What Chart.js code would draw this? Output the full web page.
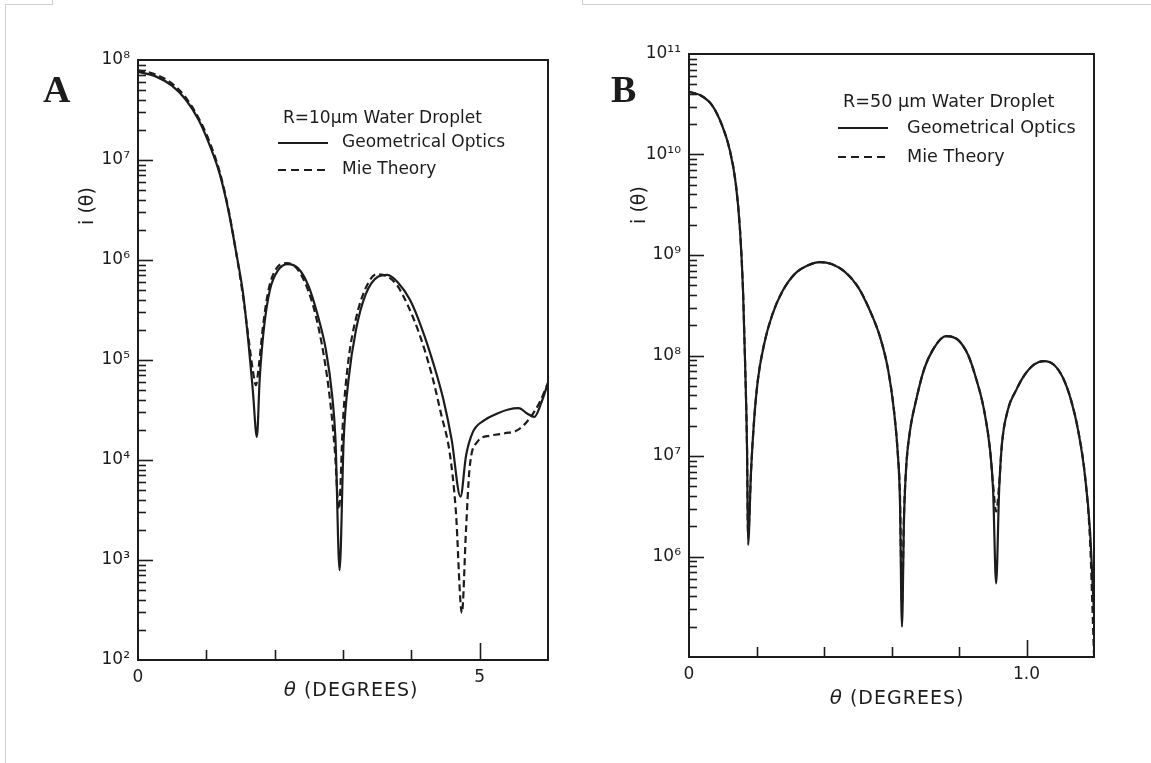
<!DOCTYPE html>
<html><head><meta charset="utf-8">
<script src="https://cdn.jsdelivr.net/npm/chart.js@4.4.0/dist/chart.umd.min.js"></script>
<style>
html,body{margin:0;padding:0;background:#fff;}
body{width:1151px;height:763px;position:relative;overflow:hidden;}
canvas{position:absolute;top:0;}
#cA{left:0;width:575px;height:763px;}
#cB{left:575px;width:576px;height:763px;}
.fr{position:absolute;background:#cfcfcf;}
</style></head><body>
<div class="fr" style="left:5px;top:4px;width:48px;height:1px"></div>
<div class="fr" style="left:52px;top:0;width:1px;height:4px"></div>
<div class="fr" style="left:5px;top:4px;width:1px;height:759px"></div>
<div class="fr" style="left:582px;top:4px;width:569px;height:1px"></div>
<div class="fr" style="left:582px;top:0;width:1px;height:4px"></div>
<canvas id="cA" width="575" height="763"></canvas>
<canvas id="cB" width="576" height="763"></canvas>
<script>
// ---------- Panel A : R = 10 um ----------
const thetaA_geo = [0,0.25,0.5,0.7,0.89,1.05,1.2,1.32,1.43,1.54,1.62,1.68,1.74,1.78,1.84,1.93,2.05,2.19,2.34,2.49,2.63,2.75,2.84,2.89,2.95,3.01,3.08,3.19,3.33,3.51,3.65,3.8,3.98,4.15,4.33,4.47,4.59,4.72,4.8,4.9,5.07,5.25,5.42,5.57,5.7,5.8,5.9,6.0];
const iA_geo = [7.6e7,6.9e7,5.5e7,4.0e7,2.5e7,1.4e7,7.1e6,3.2e6,1.26e6,4.5e5,1.4e5,5e4,1.7e4,6.3e4,2e5,5e5,7.9e5,9.1e5,8.3e5,5.6e5,2.8e5,1.26e5,4.5e4,1.6e4,7.9e2,1.6e4,6.3e4,2e5,4.5e5,6.8e5,7.1e5,6e5,4e5,2.1e5,8.9e4,4e4,1.6e4,4.3e3,1.1e4,1.9e4,2.5e4,2.9e4,3.2e4,3.3e4,2.9e4,2.7e4,3.7e4,5.9e4];
const thetaA_mie = [0,0.25,0.5,0.7,0.89,1.05,1.2,1.32,1.43,1.54,1.62,1.68,1.725,1.77,1.83,1.915,2.03,2.18,2.32,2.46,2.6,2.72,2.81,2.88,2.94,3.0,3.08,3.19,3.33,3.49,3.64,3.79,3.95,4.12,4.3,4.44,4.56,4.65,4.74,4.8,4.85,4.96,5.15,5.37,5.56,5.73,5.88,6.0];
const iA_mie = [7.9e7,7.2e7,5.8e7,4.2e7,2.6e7,1.5e7,7.4e6,3.3e6,1.26e6,4.2e5,1.6e5,7.9e4,5.6e4,8.9e4,2.2e5,5.2e5,8.3e5,9.3e5,8.3e5,5.6e5,2.8e5,1.1e5,4e4,1.26e4,3.2e3,2.5e4,1e5,2.6e5,5.2e5,7.2e5,6.9e5,5.6e5,3.5e5,1.8e5,7.1e4,2.8e4,1.2e4,3.2e3,2.95e2,2e3,7.9e3,1.5e4,1.75e4,1.85e4,2.0e4,2.6e4,3.8e4,5.9e4];
const xTicksA = [0,1,2,3,4,5,6];
const xLabelsA = {0:'0',5:'5'};
const yExpA = [2,3,4,5,6,7,8];

// ---------- Panel B : R = 50 um ----------
const thetaB_geo = [0,0.033,0.068,0.098,0.121,0.139,0.151,0.16,0.166,0.172,0.175,0.184,0.193,0.204,0.222,0.246,0.276,0.314,0.353,0.388,0.424,0.462,0.501,0.536,0.566,0.59,0.607,0.619,0.625,0.631,0.637,0.643,0.655,0.673,0.696,0.726,0.761,0.797,0.827,0.85,0.874,0.892,0.901,0.91,0.919,0.927,0.945,0.969,0.993,1.022,1.052,1.081,1.108,1.132,1.153,1.173,1.188,1.2];
const iB_geo = [4.2e10,3.9e10,3.1e10,1.95e10,1.1e10,5e9,1.8e9,4.5e8,8.9e7,1.15e7,1.3e6,7.3e6,2.3e7,5.7e7,1.27e8,2.5e8,4.3e8,6.5e8,7.9e8,8.5e8,8.1e8,6.8e8,4.8e8,2.8e8,1.53e8,7.2e7,2.9e7,1.02e7,3.65e6,2e5,2.3e6,7.3e6,1.8e7,3.6e7,7.2e7,1.19e8,1.56e8,1.43e8,1.01e8,6e7,2.9e7,1.15e7,4.6e6,5.4e5,4.6e6,1.29e7,2.9e7,4.5e7,6.3e7,8.1e7,8.8e7,8.1e7,6e7,3.6e7,1.8e7,6.5e6,1.84e6,2.7e5];
const thetaB_mie = [0,0.033,0.068,0.098,0.121,0.139,0.151,0.16,0.166,0.172,0.175,0.184,0.193,0.204,0.222,0.246,0.276,0.314,0.353,0.388,0.424,0.462,0.501,0.536,0.566,0.59,0.607,0.619,0.625,0.631,0.637,0.643,0.655,0.673,0.696,0.726,0.761,0.797,0.827,0.85,0.874,0.892,0.901,0.91,0.919,0.927,0.945,0.969,0.993,1.022,1.052,1.081,1.108,1.132,1.153,1.173,1.188,1.2];
const iB_mie = [4.2e10,3.9e10,3.1e10,1.95e10,1.1e10,5e9,1.8e9,4.5e8,8.9e7,1.15e7,1.6e6,7.3e6,2.3e7,5.7e7,1.27e8,2.5e8,4.3e8,6.5e8,7.9e8,8.5e8,8.1e8,6.8e8,4.8e8,2.8e8,1.53e8,7.2e7,2.9e7,1.02e7,4.2e6,3.4e5,2.6e6,7.3e6,1.8e7,3.6e7,7.2e7,1.19e8,1.56e8,1.43e8,1.01e8,6e7,2.9e7,1.15e7,5.2e6,2.8e6,5.2e6,1.29e7,2.9e7,4.5e7,6.3e7,8.1e7,8.8e7,8.1e7,6e7,3.6e7,1.8e7,6.5e6,1.5e6,1.05e5];
const xTicksB = [0,0.2,0.4,0.6,0.8,1.0,1.2];
const xLabelsB = {0:'0',1:'1.0'};
const yExpB = [5,6,7,8,9,10,11];
const yLabelledB = [6,7,8,9,10,11];

const INK = '#1c1c1c';
const SUP = {'0':'\u2070','1':'\u00b9','2':'\u00b2','3':'\u00b3','4':'\u2074','5':'\u2075','6':'\u2076','7':'\u2077','8':'\u2078','9':'\u2079'};
function supLabel(e){ return '10' + String(e).split('').map(c => SUP[c]).join(''); }
function pts(xs, ys){ return xs.map((v,i) => ({x:v, y:ys[i]})); }

function decor(o){
  return {
    id: 'decor' + o.letter,
    afterDatasetsDraw(chart){
      const {ctx, chartArea:a, scales:{x, y}} = chart;
      ctx.save();
      ctx.strokeStyle = INK; ctx.lineWidth = 2; ctx.setLineDash([]);
      ctx.strokeRect(a.left, a.top, a.right - a.left, a.bottom - a.top);
      ctx.lineWidth = 1.6;
      const eMin = o.yExp[0], eMax = o.yExp[o.yExp.length-1];
      for (let e = eMin; e < eMax; e++) {
        for (let k = 1; k <= 9; k++) {
          if (e === eMin && k === 1) continue;
          const py = Math.round(y.getPixelForValue(k * Math.pow(10, e))) + 0.5;
          const len = k === 1 ? 15 : 8;
          ctx.beginPath(); ctx.moveTo(a.left, py); ctx.lineTo(a.left + len, py); ctx.stroke();
        }
      }
      o.xTicks.forEach(v => {
        const px = Math.round(x.getPixelForValue(v)) + 0.5;
        if (px <= a.left + 1 || px >= a.right - 1) return;
        const len = Math.abs(v - o.longTick) < 1e-9 ? 17 : 10;
        ctx.beginPath(); ctx.moveTo(px, a.bottom); ctx.lineTo(px, a.bottom - len); ctx.stroke();
      });
      ctx.fillStyle = INK;
      ctx.font = 'bold 38px "Liberation Serif"';
      ctx.textAlign = 'left'; ctx.textBaseline = 'alphabetic';
      ctx.fillText(o.letter, o.letterX, 102);
      ctx.font = o.lfont;
      ctx.textBaseline = 'middle';
      ctx.fillText(o.header, o.lx, o.hy);
      ctx.lineWidth = 2;
      ctx.beginPath(); ctx.moveTo(o.lx - 5, o.r1); ctx.lineTo(o.lx + 45, o.r1); ctx.stroke();
      ctx.fillText('Geometrical Optics', o.tx, o.r1);
      ctx.setLineDash([8, 5]);
      ctx.beginPath(); ctx.moveTo(o.lx - 5, o.r2); ctx.lineTo(o.lx + 46, o.r2); ctx.stroke();
      ctx.setLineDash([]);
      ctx.fillText('Mie Theory', o.tx, o.r2);
      ctx.letterSpacing = '1px';
      const t1 = '\u03b8', t2 = ' (DEGREES)';
      ctx.font = 'italic 20px "DejaVu Sans"';
      const w1 = ctx.measureText(t1).width;
      ctx.font = '19px "DejaVu Sans"';
      const w2 = ctx.measureText(t2).width;
      const sx = o.xtx - (w1 + w2) / 2;
      ctx.textAlign = 'left';
      ctx.font = 'italic 20px "DejaVu Sans"';
      ctx.fillText(t1, sx, o.xty);
      ctx.font = '19px "DejaVu Sans"';
      ctx.fillText(t2, sx + w1, o.xty);
      ctx.letterSpacing = '0px';
      ctx.translate(o.ytx, o.yty);
      ctx.rotate(-Math.PI / 2);
      ctx.textAlign = 'center';
      ctx.font = '19px "DejaVu Sans"';
      ctx.fillText('i (\u03b8)', 0, 0);
      ctx.restore();
    }
  };
}

function makeChart(id, p){
  return new Chart(document.getElementById(id), {
    type: 'line',
    data: {
      datasets: [
        { label: 'Geometrical Optics', data: pts(p.gx, p.gy), borderColor: INK, borderWidth: 2.2, pointRadius: 0, fill: false, cubicInterpolationMode: 'monotone' },
        { label: 'Mie Theory', data: pts(p.mx, p.my), borderColor: INK, borderWidth: 2.2, borderDash: [7, 4], pointRadius: 0, fill: false, cubicInterpolationMode: 'monotone' }
      ]
    },
    options: {
      responsive: false, animation: false, devicePixelRatio: 1,
      layout: { padding: p.pad },
      plugins: { legend: { display: false }, tooltip: { enabled: false } },
      scales: {
        x: {
          type: 'linear', min: p.xTicks[0], max: p.xTicks[p.xTicks.length-1],
          afterBuildTicks: s => { s.ticks = p.xTicks.map(v => ({value: v})); },
          afterFit: s => { s.height = 50; },
          grid: { display: false, drawTicks: false }, border: { display: false },
          ticks: { autoSkip: false, maxRotation: 0, padding: 7, color: INK, font: { family: 'DejaVu Sans', size: 17 },
            callback: v => { for (const k in p.xLabels) { if (Math.abs(v - Number(k)) < 1e-9) return p.xLabels[k]; } return ''; } }
        },
        y: {
          type: 'logarithmic', min: Math.pow(10, p.yExp[0]), max: Math.pow(10, p.yExp[p.yExp.length-1]),
          afterBuildTicks: s => { s.ticks = p.yExp.map(e => ({value: Math.pow(10, e)})); },
          afterFit: s => { s.width = p.yw; },
          grid: { display: false, drawTicks: false }, border: { display: false },
          ticks: { autoSkip: false, padding: 8, color: INK, font: { family: 'DejaVu Sans', size: 17 },
            callback: v => { const e = Math.round(Math.log10(v)); return p.yLabelled.includes(e) ? supLabel(e) : ''; } }
        }
      }
    },
    plugins: [decor(p.deco)]
  });
}

makeChart('cA', {
  gx: thetaA_geo, gy: iA_geo, mx: thetaA_mie, my: iA_mie,
  xTicks: xTicksA, xLabels: xLabelsA, yExp: yExpA, yLabelled: yExpA,
  yw: 138, pad: { left: 0, top: 60, right: 27, bottom: 53 },
  deco: { letter: 'A', letterX: 43, yExp: yExpA, xTicks: xTicksA, longTick: 5, lfont: '17px "DejaVu Sans"',
    header: 'R=10\u03bcm Water Droplet', lx: 283, hy: 119, tx: 342, r1: 143, r2: 170,
    xtx: 351, xty: 691, ytx: 88, yty: 206 }
});
makeChart('cB', {
  gx: thetaB_geo, gy: iB_geo, mx: thetaB_mie, my: iB_mie,
  xTicks: xTicksB, xLabels: xLabelsB, yExp: yExpB, yLabelled: yLabelledB,
  yw: 114, pad: { left: 0, top: 54, right: 57, bottom: 56 },
  deco: { letter: 'B', letterX: 36, yExp: yExpB, xTicks: xTicksB, longTick: 1.0, lfont: '17.6px "DejaVu Sans"',
    header: 'R=50 \u03bcm Water Droplet', lx: 268, hy: 102, tx: 332, r1: 128, r2: 157,
    xtx: 322, xty: 699, ytx: 65, yty: 205 }
});
</script>
</body></html>
